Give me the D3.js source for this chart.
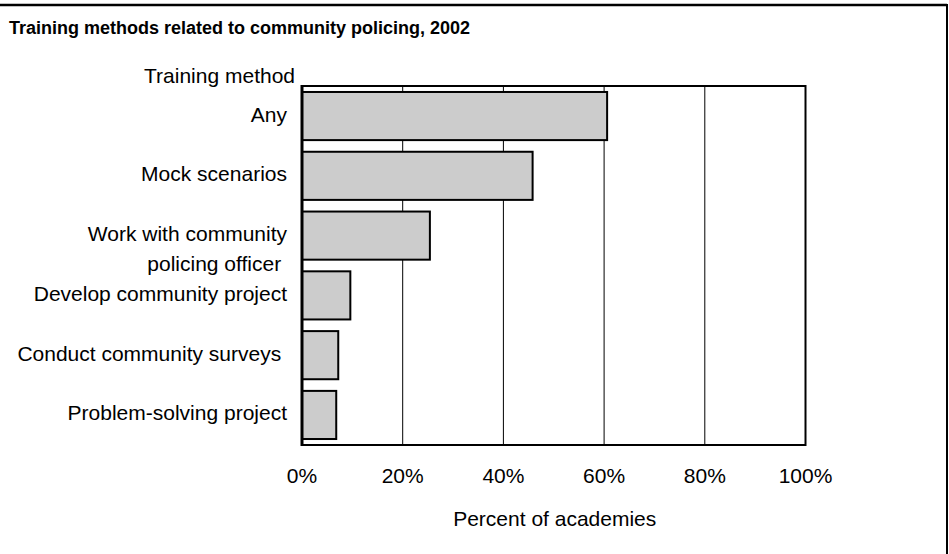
<!DOCTYPE html>
<html>
<head>
<meta charset="utf-8">
<script src="https://cdn.jsdelivr.net/npm/d3@7"></script>
<style>
  html, body { margin: 0; padding: 0; background: #fff; }
  svg { display: block; }
  text { font-family: "Liberation Sans", Arial, Helvetica, sans-serif; fill: #000; white-space: pre; }
</style>
</head>
<body>
<svg id="chart" width="949" height="554"></svg>
<script>
// ---- data ----
const categories = [
  ["Any"],
  ["Mock scenarios"],
  ["Work with community", "policing officer "],
  ["Develop community project"],
  ["Conduct community surveys "],
  ["Problem-solving project"]
];
const values = [60.6, 45.8, 25.4, 9.6, 7.2, 6.8];
const tickValues = [0, 20, 40, 60, 80, 100];
const tickLabels = ["0%", "20%", "40%", "60%", "80%", "100%"];
const titleText = "Training methods related to community policing, 2002";
const yTitle = "Training method";
const xTitle = "Percent of academies";

// ---- layout ----
const svg = d3.select("#chart");
const plot = { left: 302, right: 805.5, top: 86, bottom: 445 };
const keys = categories.map((c, i) => i);

const x = d3.scaleLinear().domain([0, 100]).range([plot.left, plot.right]);
const y = d3.scaleBand().domain(keys).range([plot.top, plot.bottom])
  .paddingInner(0.195).paddingOuter(0.1);

// outer frame (top and right edges)
svg.append("line").attr("x1", 0).attr("x2", 947).attr("y1", 5).attr("y2", 5)
  .attr("stroke", "#000").attr("stroke-width", 2.5);
svg.append("line").attr("x1", 947).attr("x2", 947).attr("y1", 4).attr("y2", 554)
  .attr("stroke", "#000").attr("stroke-width", 2);

// title
svg.append("text").attr("x", 9).attr("y", 34)
  .attr("font-size", 18).attr("font-weight", "bold").text(titleText);

// gridlines
svg.append("g").selectAll("line")
  .data(tickValues.filter(v => v > 0 && v < 100))
  .join("line")
  .attr("x1", d => x(d)).attr("x2", d => x(d))
  .attr("y1", plot.top).attr("y2", plot.bottom)
  .attr("stroke", "#000").attr("stroke-width", 1);

// bars
svg.append("g").selectAll("rect")
  .data(values)
  .join("rect")
  .attr("x", x(0))
  .attr("y", (d, i) => y(i))
  .attr("width", d => x(d) - x(0))
  .attr("height", y.bandwidth())
  .attr("fill", "#cccccc")
  .attr("stroke", "#000")
  .attr("stroke-width", 2);

// plot frame
svg.append("rect")
  .attr("x", plot.left).attr("y", plot.top)
  .attr("width", plot.right - plot.left).attr("height", plot.bottom - plot.top)
  .attr("fill", "none").attr("stroke", "#000").attr("stroke-width", 2);
svg.append("line").attr("x1", plot.left).attr("x2", plot.left)
  .attr("y1", plot.top - 1).attr("y2", plot.bottom + 1)
  .attr("stroke", "#000").attr("stroke-width", 3);

// category labels
const labelG = svg.append("g");
categories.forEach((lines, i) => {
  const cy = y(i) + y.bandwidth() / 2 + 5.5;
  const t = labelG.append("text").attr("text-anchor", "end").attr("font-size", 21);
  lines.forEach((ln, j) => {
    t.append("tspan").attr("x", 287).attr("y", cy + j * 30).text(ln);
  });
});

// y title
svg.append("text").attr("x", 295).attr("y", 83)
  .attr("text-anchor", "end").attr("font-size", 21).text(yTitle);

// x tick labels
svg.append("g").selectAll("text")
  .data(tickValues)
  .join("text")
  .attr("x", d => x(d)).attr("y", 482.5)
  .attr("text-anchor", "middle").attr("font-size", 21)
  .text((d, i) => tickLabels[i]);

// x title
svg.append("text").attr("x", (plot.left + plot.right) / 2 + 1).attr("y", 526)
  .attr("text-anchor", "middle").attr("font-size", 21).text(xTitle);
</script>
</body>
</html>
